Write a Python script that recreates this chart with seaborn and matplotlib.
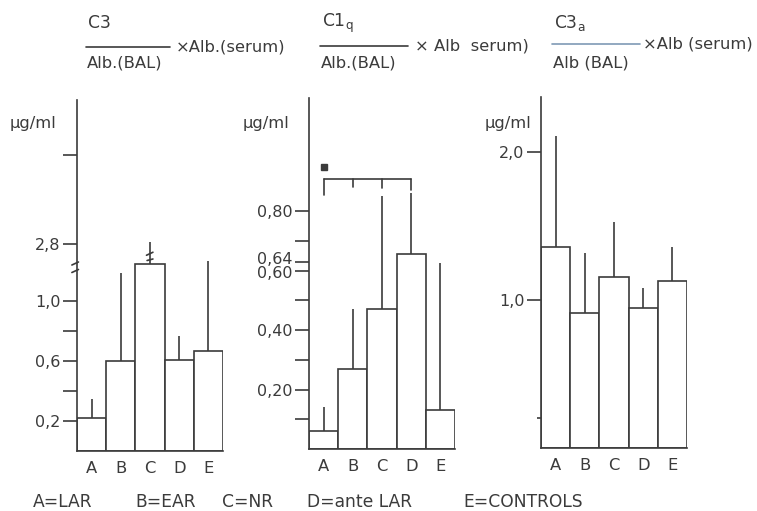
import matplotlib
matplotlib.use("Agg")
import matplotlib.pyplot as plt
from matplotlib.transforms import ScaledTranslation
import seaborn as sns
import pandas as pd

# ---------------- data ----------------
groups = ["A", "B", "C", "D", "E"]

# Panel 1: C3 / Alb(BAL) x Alb(serum)  (values in units of the drawn, broken axis)
c3_mean = [0.22, 0.60, 1.25, 0.61, 0.67]
c3_upper = [0.35, 1.19, 1.39, 0.77, 1.27]
c3_ticks = [0.2, 0.4, 0.6, 0.8, 1.0, 1.38, 1.97]
c3_ticklabels = ["0,2", "", "0,6", "", "1,0", "2,8", ""]

# Panel 2: C1q / Alb(BAL) x Alb serum
c1q_mean = [0.06, 0.27, 0.47, 0.655, 0.13]
c1q_upper = [0.14, 0.47, 0.85, 0.86, 0.625]
c1q_ticks = [0.1, 0.2, 0.3, 0.4, 0.5, 0.6, 0.63, 0.7, 0.8]
c1q_ticklabels = ["", "0,20", "", "0,40", "", "0,60", "0,64", "", "0,80"]
c1q_bracket = [0.908, 0.854, 0.88, 0.877, 0.87]   # bracket level, drop ends A..D
c1q_star = 0.948

# Panel 3: C3a / Alb(BAL) x Alb(serum)
c3a_mean = [1.36, 0.91, 1.155, 0.945, 1.13]
c3a_upper = [2.11, 1.32, 1.53, 1.08, 1.36]
c3a_ticks = [1.0, 2.0]
c3a_ticklabels = ["1,0", "2,0"]

legend_items = ["A=LAR", "B=EAR", "C=NR", "D=ante LAR", "E=CONTROLS"]

# ---------------- style ----------------
sns.set_style("white")
plt.rcParams["font.family"] = ["DejaVu Sans"]
INK = "#3b3b3b"
LW = 1.2
FS = 11.8

W, H = 757, 511
fig = plt.figure(figsize=(W / 100, H / 100), dpi=100)


def px_axes(left, right, top, bottom):
    return fig.add_axes([left / W, (H - bottom) / H, (right - left) / W, (bottom - top) / H])


def style_axes(ax, ylim, ticks, labels):
    ax.set_xlim(-0.5, 4.5)
    ax.set_ylim(*ylim)
    for s in ["top", "right"]:
        ax.spines[s].set_visible(False)
    for s in ["left", "bottom"]:
        ax.spines[s].set_color(INK)
        ax.spines[s].set_linewidth(LW)
    ax.set_yticks(ticks)
    ax.set_yticklabels(labels)
    ax.tick_params(axis="y", direction="out", length=10, width=LW, color=INK,
                   labelsize=11.5, labelcolor=INK, pad=2, left=True)
    ax.tick_params(axis="x", length=0, labelsize=11.8, labelcolor=INK, pad=7)
    ax.set_xlabel("")
    ax.set_ylabel("")
    ax.set_facecolor("none")


def bars(ax, mean, upper):
    df = pd.DataFrame({"group": groups, "value": mean})
    sns.barplot(data=df, x="group", y="value", color="white", saturation=1,
                edgecolor=INK, linewidth=LW, width=1.0, errorbar=None, ax=ax)
    ax.vlines(range(len(groups)), mean, upper, color=INK, linewidth=LW)


# Panel 1
ax1 = px_axes(77, 223, 100, 451)
bars(ax1, c3_mean, c3_upper)
style_axes(ax1, (0, 351 / 150), c3_ticks, c3_ticklabels)
# axis break marks
for yb in (1.20, 1.25):
    ax1.plot([-0.035, 0.01], [yb - 0.01, yb + 0.01], transform=ax1.get_yaxis_transform(),
             color=INK, lw=LW, clip_on=False)
# break mark on the C error bar
ax1.plot([1.88, 2.1], [1.305, 1.325], color=INK, lw=LW)
ax1.plot([1.9, 2.1], [1.27, 1.28], color=INK, lw=LW)

# Panel 2
ax2 = px_axes(309, 455, 98, 449)
bars(ax2, c1q_mean, c1q_upper)
style_axes(ax2, (0, 351 / 297.5), c1q_ticks, c1q_ticklabels)
for t in ax2.get_yticklabels():
    if t.get_text() == "0,64":
        t.set_transform(t.get_transform() + ScaledTranslation(0, 4 / 100, fig.dpi_scale_trans))
    if t.get_text() == "0,60":
        t.set_transform(t.get_transform() + ScaledTranslation(0, -1 / 100, fig.dpi_scale_trans))
lvl = c1q_bracket[0]
ax2.plot([0, 3], [lvl, lvl], color=INK, lw=LW)
for i, yend in enumerate(c1q_bracket[1:]):
    ax2.plot([i, i], [lvl, yend], color=INK, lw=LW)
ax2.plot([0], [c1q_star], marker="s", markersize=4.5, color=INK, linestyle="none")

# Panel 3
ax3 = px_axes(541, 687, 97, 448)
bars(ax3, c3a_mean, c3a_upper)
style_axes(ax3, (0, 351 / 148), c3a_ticks, c3a_ticklabels)
ax3.set_yticks([0.2], minor=True)
ax3.tick_params(axis="y", which="minor", length=3, width=LW, color=INK, left=True)

# unit labels
for xpx in (10, 243, 485):
    fig.text(xpx / W, (H - 123) / H, "µg/ml", fontsize=FS, color=INK, va="center", ha="left")

# fraction titles
titles = [
    dict(num="C3", x0=86, x1=170, yl=47, tail="×Alb.(serum)", xt=176, den="Alb.(BAL)", lc=INK),
    dict(num="C1$_\\mathregular{q}$", x0=320, x1=408, yl=46, tail="× Alb  serum)", xt=415, den="Alb.(BAL)", lc=INK),
    dict(num="C3$_\\mathregular{a}$", x0=552, x1=640, yl=44, tail="×Alb (serum)", xt=643, den="Alb (BAL)", lc="#7f9ab5"),
]
for t in titles:
    fig.text((t["x0"] + 2) / W, (H - 23) / H, t["num"], fontsize=FS + 0.5, color=INK, va="center", ha="left")
    fig.add_artist(plt.Line2D([t["x0"] / W, t["x1"] / W], [(H - t["yl"]) / H] * 2,
                              color=t["lc"], lw=LW))
    fig.text((t["x0"] + 1) / W, (H - 63) / H, t["den"], fontsize=FS, color=INK, va="center", ha="left")
    fig.text(t["xt"] / W, (H - t["yl"]) / H, t["tail"], fontsize=FS, color=INK, va="center", ha="left")

# group legend
leg_x = [33, 135, 222, 307, 463]
for xpx, s in zip(leg_x, legend_items):
    fig.text(xpx / W, (H - 502) / H, s, fontsize=12.3, color=INK, va="center", ha="left")

fig.savefig("out.png", dpi=100, facecolor="white")
